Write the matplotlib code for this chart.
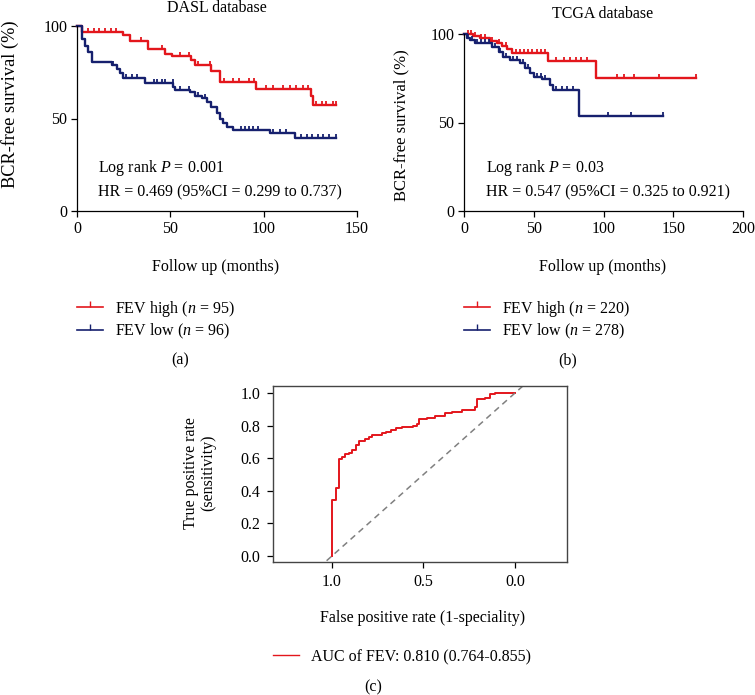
import numpy as np
import matplotlib
matplotlib.use("Agg")
import matplotlib.pyplot as plt
from matplotlib.lines import Line2D

plt.rcParams['font.family'] = ['Liberation Serif', 'DejaVu Serif']
plt.rcParams['mathtext.fontset'] = 'custom'
plt.rcParams['mathtext.rm'] = 'Liberation Serif'
plt.rcParams['mathtext.it'] = 'Liberation Serif:italic'

RED = '#e3161c'
BLUE = '#16206e'
FS = 11.5

# ---- DASL database (a) ----
dasl_high_t = [0, 2.5, 24.5, 28.5, 38, 47, 51, 61, 63, 72, 76.5, 96, 125.5, 126.5, 139]
dasl_high_s = [100, 97, 95, 92, 87.5, 85, 84, 81.5, 79, 75.5, 70, 66, 62, 57.5, 57.5]
dasl_high_cens = [6, 9, 12, 15, 18, 21, 34.5, 45.5, 55, 60, 65, 71, 79, 83.5, 87, 92, 95,
                  101.5, 105, 110.5, 114, 117.5, 121, 124, 128, 131, 133.5, 137, 139]
dasl_low_t = [0, 2.5, 4.3, 6, 8, 18.6, 21.2, 23, 24.5, 36.4, 51.6, 52.5, 60.5, 63.2, 66.8,
              69.5, 72, 74.8, 76.6, 78.4, 80.2, 83.7, 103.4, 116.8, 138.5]
dasl_low_s = [100, 93, 89, 86, 80.5, 79, 77, 74.5, 72, 69, 67, 65.5, 64.5, 62.2, 61,
              59, 56, 53, 50, 47.5, 45.5, 43.8, 42, 39.3, 39.3]
dasl_low_cens = [19.5, 26.5, 29.5, 32, 41, 43, 45.5, 47, 51.5, 55, 60, 65, 68.5,
                 88, 90, 92, 94.5, 97, 105, 108.5, 112, 120, 123, 126, 129, 132, 135, 138.5]

# ---- TCGA database (b) ----
tcga_high_t = [0, 6.7, 11.5, 18.6, 23.4, 27, 30.6, 34.2, 60.5, 94.5, 166]
tcga_high_s = [100, 99, 97.6, 96, 94.8, 93, 91.5, 89.3, 85, 75.3, 75.3]
tcga_high_cens = [3, 5, 8, 12, 15, 20, 25, 30, 37, 40, 43, 46, 49, 52, 55, 58,
                  66, 72, 76, 80, 84, 88, 110, 115, 122, 140, 166]
tcga_low_t = [0, 2, 4.3, 8, 20, 25, 28, 33, 40, 44, 47, 50, 55.7, 61.6, 64, 82.7, 142.4]
tcga_low_s = [100, 97.5, 96.5, 95, 92.8, 90, 87.2, 85.3, 83.4, 80.6, 77.8, 75.9, 74.4,
              71.2, 68.4, 53.7, 53.7]
tcga_low_cens = [3, 6, 9, 12, 15, 18, 22, 26, 30, 35, 38, 42, 46, 52, 55, 58,
                 66, 70, 74, 78, 103, 120, 142.4]

# ---- ROC (c) ----
roc_spec = [1.0, 1.0, 0.98, 0.96, 0.944, 0.93, 0.907, 0.889, 0.87, 0.852, 0.82, 0.80,
            0.783, 0.728, 0.705, 0.679, 0.65, 0.619, 0.556, 0.537, 0.525, 0.483, 0.437,
            0.383, 0.346, 0.291, 0.219, 0.206, 0.164, 0.137, 0.109, 0.0]
roc_sens = [0.0, 0.344, 0.42, 0.595, 0.61, 0.626, 0.634, 0.65, 0.68, 0.705, 0.716, 0.732,
            0.74, 0.756, 0.763, 0.773, 0.787, 0.793, 0.80, 0.81, 0.839, 0.848, 0.859,
            0.875, 0.885, 0.896, 0.916, 0.961, 0.971, 0.994, 1.0, 1.0]

fig = plt.figure(figsize=(7.55, 6.95), dpi=100)
W, H = 755, 695


def fx(px):
    return px / W


def fy(py):
    return 1 - py / H


def ax_px(left, top, right, bottom):
    return fig.add_axes([left / W, 1 - bottom / H, (right - left) / W, (bottom - top) / H])


def km(ax, t, s, cens, color):
    t = np.asarray(t)
    s = np.asarray(s)
    ax.plot(t, s, drawstyle='steps-post', color=color, lw=1.7, clip_on=False)
    idx = np.searchsorted(t, cens, side='right') - 1
    ax.plot(cens, s[idx], linestyle='none', marker=2, markersize=3.2,
            markeredgewidth=1.3, color=color, clip_on=False)


def style_km(ax, xmax, xticks, label_fs):
    ax.set_xlim(0, xmax)
    ax.set_ylim(0, 100)
    ax.set_xticks(xticks)
    ax.set_yticks([0, 50, 100])
    for sp in ['top', 'right']:
        ax.spines[sp].set_visible(False)
    for sp in ['left', 'bottom']:
        ax.spines[sp].set_linewidth(0.9)
    ax.tick_params(direction='out', length=4, width=0.9, labelsize=FS, pad=3)
    ax.set_ylabel('BCR-free survival (%)', fontsize=label_fs)


# (a)
ax1 = ax_px(77, 26, 357, 211)
km(ax1, dasl_high_t, dasl_high_s, dasl_high_cens, RED)
km(ax1, dasl_low_t, dasl_low_s, dasl_low_cens, BLUE)
style_km(ax1, 150, [0, 50, 100, 150], 13.2)
ax1.yaxis.set_label_coords(-0.207, 0.578)
fig.text(fx(217), fy(8), 'DASL database', ha='center', va='center', fontsize=FS)
ax1.text(11.2, 23.2, 'Log rank $P$ = 0.001', fontsize=FS, va='center')
ax1.text(11.2, 10.3, 'HR = 0.469 (95%CI = 0.299 to 0.737)', fontsize=FS, va='center')

# (b)
ax2 = ax_px(464, 34, 743, 211)
km(ax2, tcga_high_t, tcga_high_s, tcga_high_cens, RED)
km(ax2, tcga_low_t, tcga_low_s, tcga_low_cens, BLUE)
style_km(ax2, 200, [0, 50, 100, 150, 200], 12)
ax2.yaxis.set_label_coords(-0.194, 0.486)
fig.text(fx(603), fy(14), 'TCGA database', ha='center', va='center', fontsize=FS)
ax2.text(15.8, 24.3, 'Log rank $P$ = 0.03', fontsize=FS, va='center')
ax2.text(15.8, 10.7, 'HR = 0.547 (95%CI = 0.325 to 0.921)', fontsize=FS, va='center')

fig.text(fx(216), fy(267), 'Follow up (months)', ha='center', va='center', fontsize=FS)
fig.text(fx(603), fy(267), 'Follow up (months)', ha='center', va='center', fontsize=FS)

h_red = Line2D([], [], color=RED, lw=1.2, marker=2, markersize=4, markeredgewidth=1.0)
h_blue = Line2D([], [], color=BLUE, lw=1.2, marker=2, markersize=4, markeredgewidth=1.0)
leg_kw = dict(loc='upper left', frameon=False, fontsize=FS, handlelength=1.65,
              handletextpad=0.75, labelspacing=0.2, numpoints=1,
              borderpad=0, borderaxespad=0)
fig.legend([h_red, h_blue], ['FEV high ($n$ = 95)', 'FEV low ($n$ = 96)'],
           bbox_to_anchor=(fx(77), fy(299)), **leg_kw)
fig.legend([h_red, h_blue], ['FEV high ($n$ = 220)', 'FEV low ($n$ = 278)'],
           bbox_to_anchor=(fx(464), fy(299)), **leg_kw)

fig.text(fx(180), fy(360), '(a)', ha='center', va='center', fontsize=FS)
fig.text(fx(568), fy(360), '(b)', ha='center', va='center', fontsize=FS)

# (c)
ax3 = ax_px(273, 386, 567, 562)
ax3.plot(roc_spec, roc_sens, drawstyle='steps-post', color=RED, lw=1.4)
ax3.axline((1, 0), (0, 1), color='#808080', lw=1.1, linestyle=(0, (4, 3)))
ax3.set_xlim(1.322, -0.284)
ax3.set_ylim(-0.037, 1.043)
ax3.set_xticks([1.0, 0.5, 0.0])
ax3.set_yticks([0.0, 0.2, 0.4, 0.6, 0.8, 1.0])
ax3.set_xticklabels(['1.0', '0.5', '0.0'])
ax3.set_yticklabels(['0.0', '0.2', '0.4', '0.6', '0.8', '1.0'])
for sp in ax3.spines.values():
    sp.set_color('#444444')
    sp.set_linewidth(1.0)
ax3.tick_params(direction='out', length=4, width=0.9, labelsize=FS, pad=5)
ax3.set_ylabel('True positive rate\n(sensitivity)', fontsize=FS, linespacing=1.1)
ax3.yaxis.set_label_coords(-0.194, 0.506)

fig.text(fx(423), fy(618), 'False positive rate (1-speciality)', ha='center', va='center', fontsize=FS)
h_roc = Line2D([], [], color=RED, lw=1.0)
fig.legend([h_roc], ['AUC of FEV: 0.810 (0.764-0.855)'],
           bbox_to_anchor=(fx(273), fy(649)), **leg_kw)
fig.text(fx(373), fy(687), '(c)', ha='center', va='center', fontsize=FS)

fig.savefig('out.png', dpi=100)
